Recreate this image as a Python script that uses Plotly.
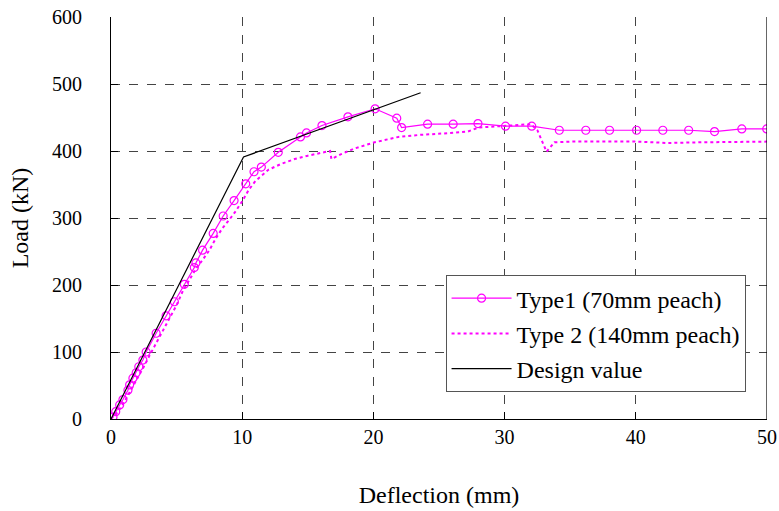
import plotly.graph_objects as go

# Type 1 (70mm peach) - measured points
t1_x = [0.15, 0.36, 0.66, 0.91, 1.29, 1.42, 1.67, 1.92, 2.12, 2.43, 2.68, 3.44, 4.2, 4.83,
        5.59, 6.35, 6.47, 6.98, 7.79, 8.55, 9.38, 10.27, 10.9, 11.46, 12.75, 14.44, 14.9,
        16.08, 18.06, 20.13, 21.78, 22.15, 24.13, 26.08, 27.97, 30.07, 32.07, 34.17, 36.19,
        38.0, 40.06, 42.06, 44.03, 46.0, 48.08, 49.98]
t1_y = [3, 11, 21, 29, 43, 51, 61, 69, 78, 88, 100, 128, 154, 175,
        201, 226, 233, 252, 277, 303, 326, 351, 369, 376, 398, 421, 427,
        438, 451, 463, 449, 435, 440, 440, 441, 437, 437, 431, 431,
        431, 431, 431, 431, 429, 433, 433]

# Type 2 (140mm peach)
t2_x = [0, 0.5, 1, 1.5, 2, 2.5, 3, 3.5, 4, 4.5, 5, 5.5, 6, 6.5, 7, 7.5, 8, 8.5, 9, 9.5,
        10, 10.5, 11, 12, 13, 14, 15, 16, 16.7, 16.8, 17.5, 18.6, 20.1, 21.9, 23.5, 25.2,
        27.2, 28, 30, 32, 32.5, 33.2, 33.8, 35, 40, 42.4, 45, 50]
t2_y = [0, 10, 25, 42, 60, 78, 97, 115, 133, 150, 170, 192, 208, 225, 238, 252, 270, 285, 297, 310,
        325, 342, 355, 372, 381, 388, 393, 397, 400, 388, 395, 404, 413, 421, 424, 426,
        429, 435, 437, 440, 431, 399, 413, 414, 414, 412, 413, 414]

# Design value
d_x = [0, 10.1, 23.6]
d_y = [0, 391, 487]

x_ticks = [0, 10, 20, 30, 40, 50]
y_ticks = [0, 100, 200, 300, 400, 500, 600]

MAG = "#FF00FF"
FONT = "Liberation Serif"

fig = go.Figure()
fig.add_trace(go.Scatter(x=t1_x, y=t1_y, mode="lines+markers", name="Type1 (70mm peach)",
                         legendgroup="a",
                         line=dict(color=MAG, width=1.2),
                         marker=dict(symbol="circle-open", size=8, color=MAG, line=dict(width=1.2))))
fig.add_trace(go.Scatter(x=t2_x, y=t2_y, mode="lines", name="Type 2 (140mm peach)",
                         legendgroup="b",
                         line=dict(color=MAG, width=2, dash="dot")))
fig.add_trace(go.Scatter(x=d_x, y=d_y, mode="lines", name="Design value",
                         legendgroup="c",
                         line=dict(color="black", width=1.2)))

fig.add_shape(type="line", xref="x", yref="y", x0=50, x1=50, y0=0, y1=600,
              line=dict(color="black", width=1.2), layer="above")

fig.update_layout(
    width=779, height=511,
    margin=dict(l=111, r=12, t=17, b=92, autoexpand=False),
    paper_bgcolor="white", plot_bgcolor="white",
    font=dict(family=FONT, size=20, color="black"),
    showlegend=True,
    legend=dict(x=0.51, y=0.358, xanchor="left", yanchor="top",
                bgcolor="white", bordercolor="#555", borderwidth=1,
                font=dict(family=FONT, size=24), tracegroupgap=1, itemwidth=60),
)
fig.update_xaxes(range=[0, 50], tickvals=x_ticks, ticks="inside", ticklen=7, tickcolor="black",
                 showline=True, linecolor="black", linewidth=1.2, automargin=False,
                 showgrid=True, gridcolor="#444", griddash="dash", gridwidth=1,
                 zeroline=False,
                 title=dict(text="Deflection (mm)", font=dict(family=FONT, size=24), standoff=39),
                 tickfont=dict(family=FONT, size=20))
fig.update_yaxes(range=[0, 600], tickvals=y_ticks, ticks="inside", ticklen=7, tickcolor="black",
                 showline=True, linecolor="black", linewidth=1.2, automargin=False,
                 showgrid=True, gridcolor="#444", griddash="dash", gridwidth=1,
                 zeroline=False, ticklabelstandoff=24,
                 title=dict(text="Load (kN)", font=dict(family=FONT, size=24), standoff=16),
                 tickfont=dict(family=FONT, size=20))

fig.write_html("out.html")
